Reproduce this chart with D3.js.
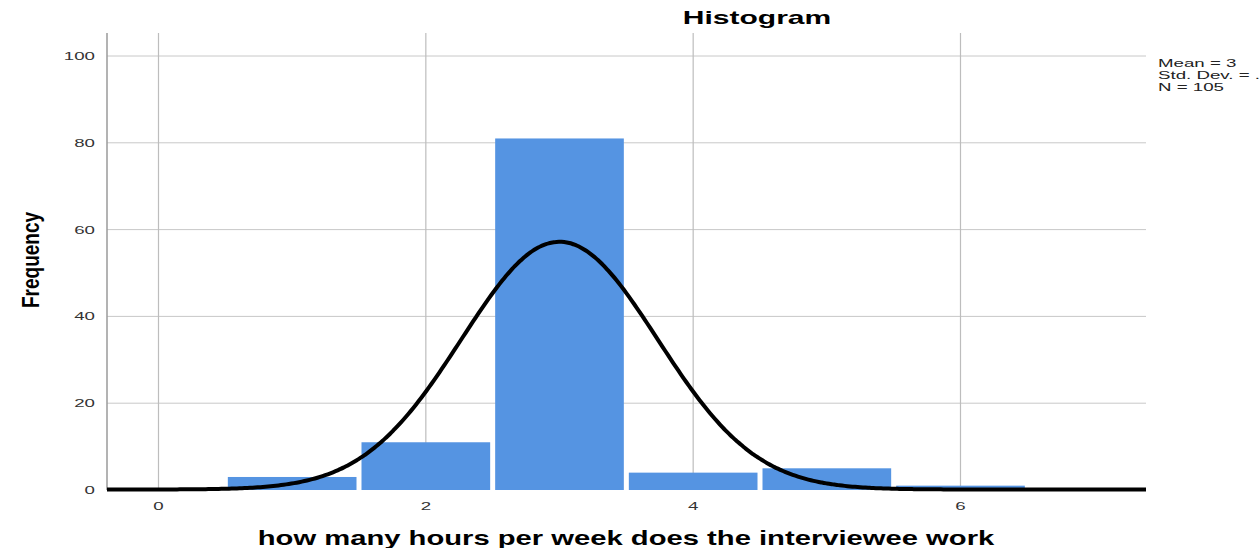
<!DOCTYPE html>
<html><head><meta charset="utf-8">
<script src="https://cdn.jsdelivr.net/npm/d3@7"></script>
<style>body{margin:0;background:#fff}svg{display:block}</style>
</head><body>
<svg id="c" width="1259" height="548"></svg>
<script>
const binCenters = [1, 2, 3, 4, 5, 6];
const frequencies = [3, 11, 81, 4, 5, 1];
const xTicks = [0, 2, 4, 6];
const yTicks = [0, 20, 40, 60, 80, 100];
const statLabels = ["Mean = 3", "Std. Dev. = .734", "N = 105"];
const title = "Histogram";
const xLabel = "how many hours per week does the interviewee work";
const yLabel = "Frequency";

const svg = d3.select("#c");
const L = 107, R = 1146, T = 33, B = 490;
const x = d3.scaleLinear().domain([0, 6]).range([158.5, 960.5]);
const y = d3.scaleLinear().domain([0, 100]).range([B, 56]);
const xMin = x.invert(L), xMax = x.invert(R);
const FONT = "Liberation Sans, Arial, sans-serif";
const SX = 1.7;

// stats
const N = d3.sum(frequencies);
const mean = d3.sum(binCenters.map((c, i) => c * frequencies[i])) / N;
const sd = Math.sqrt(d3.sum(binCenters.map((c, i) => frequencies[i] * (c - mean) ** 2)) / (N - 1));

function stretchedText(px, py, anchor, size, weight, sx, txt, fill) {
  const g = svg.append("g").attr("transform", `translate(${px},${py}) scale(${sx},1)`);
  return g.append("text").attr("text-anchor", anchor).attr("font-family", FONT)
    .attr("font-size", size).attr("font-weight", weight).attr("fill", fill || "#000").text(txt);
}

// grid
svg.append("g").selectAll("line").data(yTicks.slice(1)).join("line")
  .attr("x1", L).attr("x2", R).attr("y1", d => y(d)).attr("y2", d => y(d))
  .attr("stroke", "#c8c8c8").attr("stroke-width", 1);
svg.append("g").selectAll("line").data(xTicks).join("line")
  .attr("x1", d => x(d)).attr("x2", d => x(d)).attr("y1", T).attr("y2", B)
  .attr("stroke", "#bdbdbd").attr("stroke-width", 1.2);

// y axis line
svg.append("line").attr("x1", L).attr("x2", L).attr("y1", T).attr("y2", B)
  .attr("stroke", "#9a9a9a").attr("stroke-width", 1.5);

// bars
svg.append("g").selectAll("rect").data(binCenters).join("rect")
  .attr("x", d => x(d - 0.5) + 2.5)
  .attr("width", d => x(d + 0.5) - x(d - 0.5) - 5)
  .attr("y", (d, i) => y(frequencies[i]))
  .attr("height", (d, i) => B - y(frequencies[i]))
  .attr("fill", "#5594e2");

// normal curve
const pts = d3.range(0, 401).map(k => xMin + (xMax - xMin) * k / 400);
const dens = v => N / (sd * Math.sqrt(2 * Math.PI)) * Math.exp(-0.5 * ((v - mean) / sd) ** 2);
svg.append("path").datum(pts)
  .attr("d", d3.line().x(d => x(d)).y(d => y(dens(d)) - 0.5).curve(d3.curveBasis))
  .attr("fill", "none").attr("stroke", "#000").attr("stroke-width", 4);

// tick labels
const fmt = d3.format("d");
yTicks.forEach(t => stretchedText(95, y(t) + 4, "end", 11, "normal", SX, fmt(t), "#333"));
xTicks.forEach(t => stretchedText(x(t), 510, "middle", 11, "normal", SX, fmt(t), "#333"));

// title
stretchedText(757, 24, "middle", 18, "bold", 1.67, title);

// x label fitted to reference width
const xl = stretchedText(626, 545, "middle", 20, "bold", 1, xLabel);
const w = xl.node().getComputedTextLength();
d3.select(xl.node().parentNode).attr("transform", `translate(626,545) scale(${737 / w},1)`);

// y label
svg.append("g").attr("transform", "translate(39,260) rotate(-90) scale(1,1.25)")
  .append("text").attr("text-anchor", "middle")
  .attr("font-family", "Liberation Sans Narrow, Arial Narrow, sans-serif").attr("font-weight", "bold")
  .attr("font-size", 19).text(yLabel);

// stats
statLabels.forEach((s, i) => stretchedText(1158, 67 + i * 12, "start", 11, "normal", SX, s, "#222"));
</script>
</body></html>
